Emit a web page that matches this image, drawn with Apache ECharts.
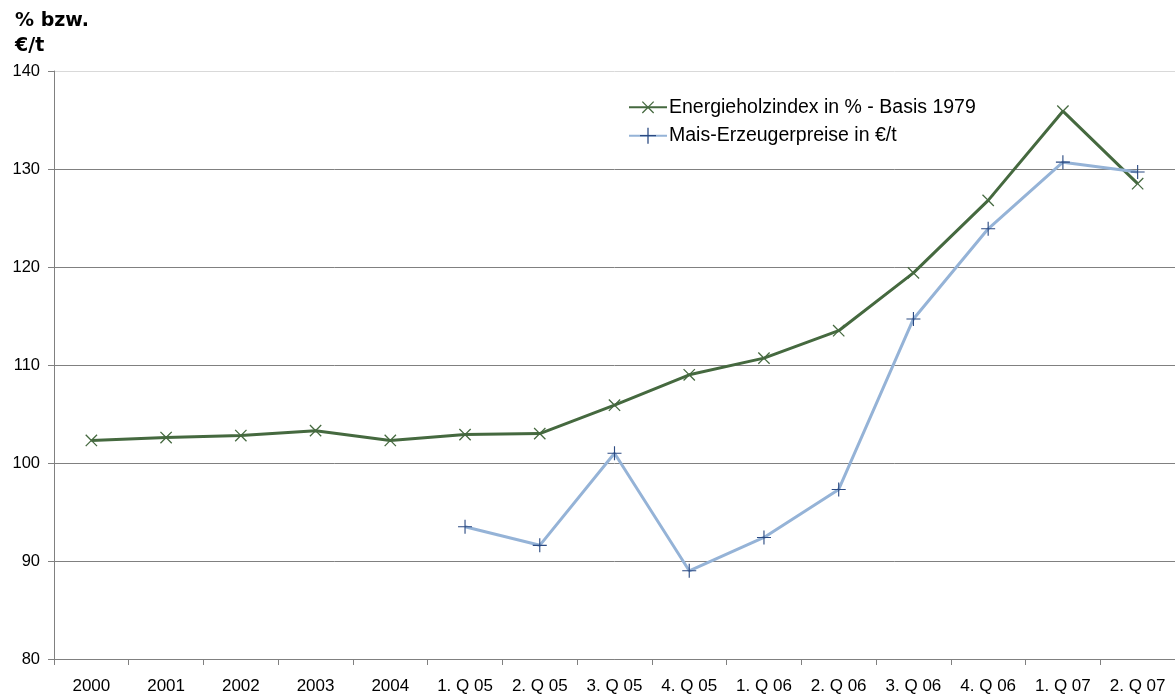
<!DOCTYPE html>
<html>
<head>
<meta charset="utf-8">
<script src="https://cdn.jsdelivr.net/npm/echarts@6/dist/echarts.min.js"></script>
<style>
  html, body { margin: 0; padding: 0; background: #fff; }
  #chart { width: 1175px; height: 700px; }
</style>
</head>
<body>
<div id="chart"></div>
<script>
var categories = ['2000', '2001', '2002', '2003', '2004', '1. Q 05', '2. Q 05', '3. Q 05', '4. Q 05',
  '1. Q 06', '2. Q 06', '3. Q 06', '4. Q 06', '1. Q 07', '2. Q 07'];
var energieholz = [102.3, 102.6, 102.8, 103.3, 102.3, 102.9, 103.0, 105.9, 109.0, 110.7, 113.5, 119.4, 126.8, 135.9, 128.5];
var maisPreise = [null, null, null, null, null, 93.5, 91.6, 101.0, 89.0, 92.4, 97.3, 114.7, 123.9, 130.7, 129.7];
var yTicks = [80, 90, 100, 110, 120, 130, 140];

// kreuz als gefuellte form, damit es ohne stroke sichtbar ist
var plusPath = 'path://M9.2,0H10.8V9.2H20V10.8H10.8V20H9.2V10.8H0V9.2H9.2Z';

var chart = echarts.init(document.getElementById('chart'));
chart.setOption({
  animation: false,
  title: {
    text: '% bzw.\n€/t',
    left: 10,
    top: 4,
    textStyle: { fontFamily: 'DejaVu Sans', fontWeight: 'bold', fontSize: 19, lineHeight: 25, color: '#000' }
  },
  legend: {
    orient: 'vertical',
    left: 623,
    top: 91,
    itemWidth: 38,
    itemHeight: 20,
    itemGap: 7,
    textStyle: { fontFamily: 'Liberation Sans', fontSize: 19.5, color: '#000', padding: [0, 0, 0, -3] },
    data: ['Energieholzindex in % - Basis 1979', 'Mais-Erzeugerpreise in €/t']
  },
  grid: { left: 54, right: 0, top: 71, bottom: 41 },
  xAxis: {
    type: 'category',
    data: categories,
    boundaryGap: true,
    axisLine: { lineStyle: { color: '#808080', width: 1 } },
    axisTick: { show: true, interval: 0, length: 6, lineStyle: { color: '#808080' } },
    axisLabel: { interval: 0, margin: 19, fontFamily: 'Liberation Sans', fontSize: 17, color: '#000' }
  },
  yAxis: {
    type: 'value',
    min: yTicks[0],
    max: yTicks[yTicks.length - 1],
    interval: 10,
    axisLine: { show: true, lineStyle: { color: '#808080', width: 1 } },
    axisTick: { show: true, length: 6, lineStyle: { color: '#808080' } },
    axisLabel: { margin: 14, fontFamily: 'Liberation Sans', fontSize: 16.5, color: '#000' },
    splitLine: {
      lineStyle: { color: ['#808080', '#808080', '#808080', '#808080', '#808080', '#808080', '#d9d9d9'], width: 1 }
    }
  },
  series: [
    {
      name: 'Energieholzindex in % - Basis 1979',
      type: 'line',
      data: energieholz,
      symbol: plusPath,
      symbolRotate: 45,
      symbolSize: 16,
      lineStyle: { color: '#45693f', width: 3 },
      itemStyle: { color: '#45693f' }
    },
    {
      name: 'Mais-Erzeugerpreise in €/t',
      type: 'line',
      data: maisPreise,
      connectNulls: false,
      symbol: plusPath,
      symbolSize: 14,
      lineStyle: { color: '#95b3d7', width: 3 },
      itemStyle: { color: '#2b4a82' },
      z: 3
    }
  ]
});
</script>
</body>
</html>
